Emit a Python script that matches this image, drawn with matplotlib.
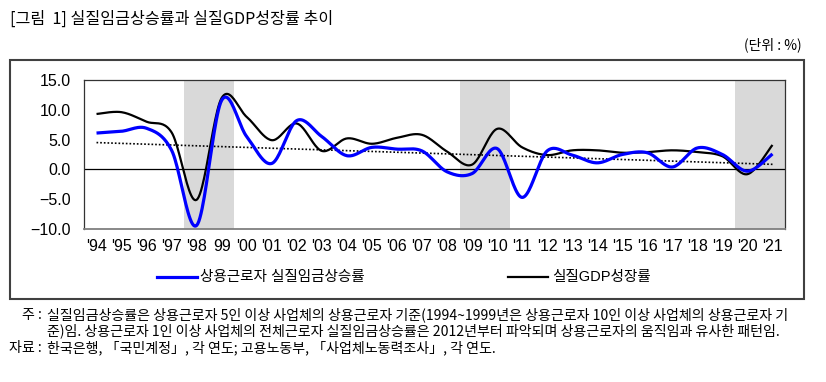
import numpy as np
import matplotlib
matplotlib.use("Agg")
import matplotlib.pyplot as plt
from matplotlib.patches import Rectangle
from matplotlib.lines import Line2D

plt.rcParams['font.family'] = ['Liberation Sans', 'Noto Sans CJK KR', 'DejaVu Sans']

years = ["'94", "'95", "'96", "'97", "'98", "99", "'00", "'01", "'02", "'03",
         "'04", "'05", "'06", "'07", "'08", "'09", "'10", "'11", "'12", "'13",
         "'14", "'15", "'16", "'17", "'18", "'19", "'20", "'21"]
wage = [6.1, 6.4, 6.9, 3.2, -9.4, 11.6, 5.5, 1.0, 8.2, 5.5, 2.3, 3.7, 3.4, 3.1,
        -0.4, -0.7, 3.5, -4.7, 3.1, 2.4, 1.1, 2.5, 2.8, 0.4, 3.6, 2.5, -0.3, 2.6]
gdp = [9.3, 9.6, 8.0, 6.2, -5.1, 12.0, 8.8, 4.9, 7.7, 3.1, 5.2, 4.3, 5.3, 5.8,
       3.0, 0.8, 6.8, 3.7, 2.4, 3.2, 3.2, 2.8, 2.9, 3.2, 2.9, 2.2, -0.8, 4.1]
trend = [4.5, 0.85]  # dotted trend line, first and last year
shaded = [("'98", "99"), ("'09", "'10"), ("'20", "'21")]

W, H = 826, 382


def smooth(y, n=24):
    # excel-like smoothed line (catmull-rom bezier)
    y = np.asarray(y, float)
    x = np.arange(len(y), dtype=float)
    p = np.column_stack([x, y])
    pad = np.vstack([p[0], p, p[-1]])
    out = []
    t = np.linspace(0, 1, n)[:, None]
    for i in range(len(p) - 1):
        p0, p1, p2, p3 = pad[i], pad[i + 1], pad[i + 2], pad[i + 3]
        c1 = p1 + (p2 - p0) / 6
        c2 = p2 - (p3 - p1) / 6
        seg = ((1 - t) ** 3) * p1 + 3 * ((1 - t) ** 2) * t * c1 + 3 * (1 - t) * t ** 2 * c2 + t ** 3 * p2
        out.append(seg if i == 0 else seg[1:])
    out = np.vstack(out)
    return out[:, 0], out[:, 1]


def fx(px):
    return px / W


def fy(py):
    return 1 - py / H


fig = plt.figure(figsize=(W / 100, H / 100), dpi=100)

# outer frame
fig.patches.append(Rectangle((fx(10), fy(299)), (804 - 10) / W, (299 - 60) / H,
                             transform=fig.transFigure, fill=False,
                             edgecolor='#404040', linewidth=1.5))

ax = fig.add_axes([fx(84), fy(229), (785 - 84) / W, (229 - 80) / H])

for a, b in shaded:
    ax.axvspan(years.index(a) - 0.5, years.index(b) + 0.5, color='#d9d9d9', lw=0, zorder=0)

ax.axhline(0, color='black', lw=0.9, zorder=1)

xs, ys = smooth(gdp)
ax.plot(xs, ys, color='black', lw=1.6, zorder=3, solid_capstyle='butt')
xs, ys = smooth(wage)
ax.plot(xs, ys, color='#0000ff', lw=2.3, zorder=4, solid_capstyle='butt')
ax.plot([0, len(years) - 1], trend, color='black', lw=1.2, ls=(0, (1, 1.2)), zorder=2)

ax.set_xlim(-0.5, len(years) - 0.5)
ax.set_ylim(-10, 15)
ax.set_yticks([-10, -5, 0, 5, 10, 15])
ax.set_yticklabels(['%.1f' % v if v >= 0 else '\u2212%.1f' % -v for v in [-10, -5, 0, 5, 10, 15]])
ax.set_xticks(range(len(years)))
ax.set_xticklabels(years)
ax.tick_params(axis='both', length=0, labelsize=11.5, colors='black')
ax.tick_params(axis='y', pad=9.5)
ax.tick_params(axis='x', pad=7)
for s in ax.spines.values():
    s.set_linewidth(0.9)
    s.set_color('#333333')
ax.spines['bottom'].set_color('#7f7f7f')
ax.spines['bottom'].set_linewidth(1.3)

# legend
fig.add_artist(Line2D([fx(157), fx(197)], [fy(277), fy(277)], color='#0000ff', lw=2.3))
fig.text(fx(200), fy(277), '상용근로자 실질임금상승률', fontsize=10.5, va='center', ha='left')
fig.add_artist(Line2D([fx(508), fx(548)], [fy(277), fy(277)], color='black', lw=1.6))
fig.text(fx(552), fy(277), '실질GDP성장률', fontsize=10.5, va='center', ha='left')

# title and unit
fig.text(fx(10), fy(19), '[그림  1] 실질임금상승률과 실질GDP성장률 추이', fontsize=11.6,
         va='center', ha='left', family=['Noto Sans CJK KR'])
fig.text(fx(802), fy(45), '(단위 : %)', fontsize=10, va='center', ha='right',
         family=['Noto Sans CJK KR'])

# notes
note_font = dict(fontsize=10.1, va='center', family=['Noto Sans CJK KR', 'DejaVu Sans'])
fig.text(fx(42), fy(315), '주 :', ha='right', **note_font)
fig.text(fx(47), fy(315), '실질임금상승률은 상용근로자 5인 이상 사업체의 상용근로자 기준(1994~1999년은 상용근로자 10인 이상 사업체의 상용근로자 기',
         ha='left', **note_font)
fig.text(fx(47), fy(331), '준)임. 상용근로자 1인 이상 사업체의 전체근로자 실질임금상승률은 2012년부터 파악되며 상용근로자의 움직임과 유사한 패턴임.',
         ha='left', **note_font)
fig.text(fx(42), fy(348), '자료 :', ha='right', **note_font)
fig.text(fx(47), fy(348), '한국은행, 「국민계정」, 각 연도; 고용노동부, 「사업체노동력조사」, 각 연도.',
         ha='left', **note_font)

fig.savefig('out.png', dpi=100)
